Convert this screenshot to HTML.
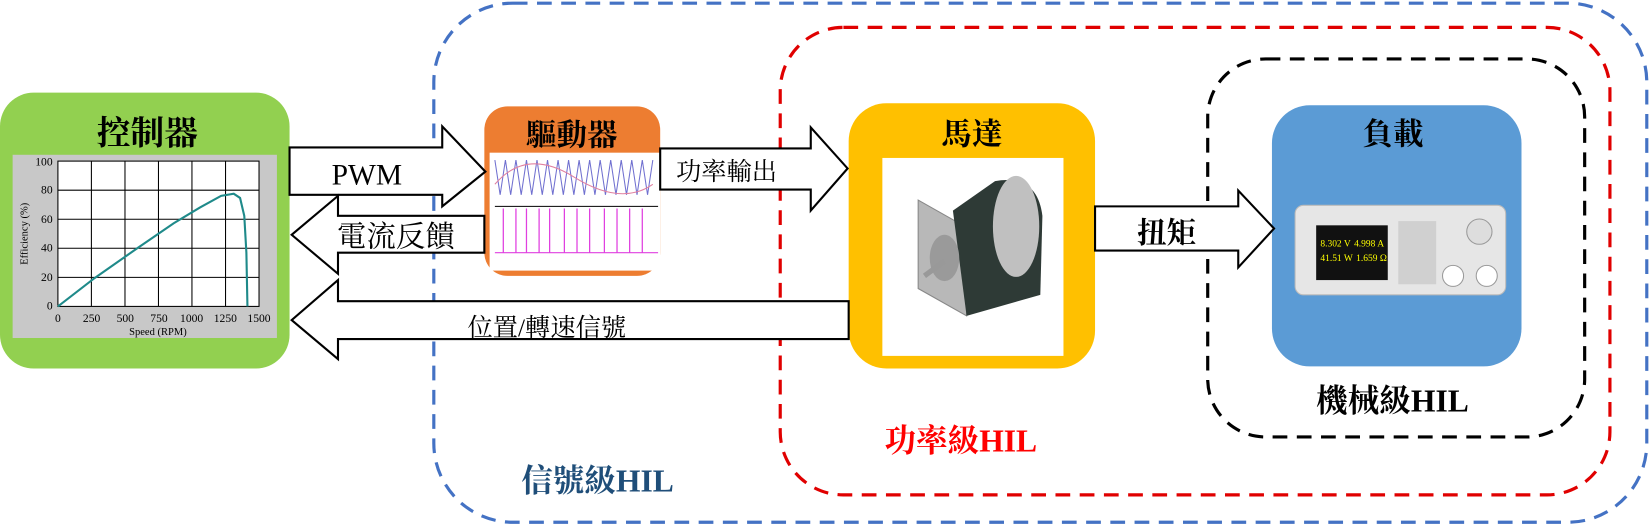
<!DOCTYPE html>
<html><head><meta charset="utf-8"><style>
html,body{margin:0;padding:0;background:#fff;}
svg{display:block;}
text{font-family:"Liberation Serif","Noto Serif CJK SC","Noto Sans CJK TC",serif;}
</style></head><body>
<svg width="1651" height="527" viewBox="0 0 1568 500.5" preserveAspectRatio="none" xmlns="http://www.w3.org/2000/svg">
<!-- dashed regions -->
<rect x="412" y="3" width="1152" height="493" rx="75" fill="none" stroke="#4472c4" stroke-width="3" stroke-dasharray="14,9"/>
<rect x="741" y="26" width="788" height="444" rx="60" fill="none" stroke="#e00000" stroke-width="3" stroke-dasharray="14,9"/>
<rect x="1147" y="56" width="358" height="359" rx="55" fill="none" stroke="#000" stroke-width="3" stroke-dasharray="14,9"/>

<!-- controller -->
<rect x="0" y="88" width="275" height="262" rx="32" fill="#92d050"/>
<text x="140" y="137" font-size="32" font-weight="bold" text-anchor="middle">控制器</text>
<rect x="12" y="147" width="251" height="174" fill="#c8c8c8"/>
<rect x="55" y="153" width="191" height="138" fill="#fff" stroke="#000" stroke-width="1"/>
<g stroke="#000" stroke-width="1">
<line x1="55" y1="180.6" x2="246" y2="180.6"/><line x1="55" y1="208.2" x2="246" y2="208.2"/>
<line x1="55" y1="235.8" x2="246" y2="235.8"/><line x1="55" y1="263.4" x2="246" y2="263.4"/>
<line x1="86.8" y1="153" x2="86.8" y2="291"/><line x1="118.7" y1="153" x2="118.7" y2="291"/>
<line x1="150.5" y1="153" x2="150.5" y2="291"/><line x1="182.3" y1="153" x2="182.3" y2="291"/>
<line x1="214.2" y1="153" x2="214.2" y2="291"/>
</g>
<path d="M55 291 L90 264 L130 236 L165 212 L190 197 L210 186 L222 184 L228 188 L232 205 L234 240 L235 291" fill="none" stroke="#1f8a8a" stroke-width="2"/>
<g font-size="11" text-anchor="end">
<text x="50" y="157">100</text><text x="50" y="184">80</text><text x="50" y="212">60</text>
<text x="50" y="239">40</text><text x="50" y="267">20</text><text x="50" y="294">0</text>
</g>
<g font-size="11" text-anchor="middle">
<text x="55" y="306">0</text><text x="87" y="306">250</text><text x="119" y="306">500</text>
<text x="151" y="306">750</text><text x="182" y="306">1000</text><text x="214" y="306">1250</text><text x="246" y="306">1500</text>
<text x="150" y="318" font-size="10">Speed (RPM)</text>
</g>
<text x="0" y="0" font-size="10" text-anchor="middle" transform="translate(26 222) rotate(-90)">Efficiency (%)</text>

<!-- driver -->
<rect x="460" y="101" width="167" height="161" rx="22" fill="#ed7d31"/>
<text x="543" y="138" font-size="29" font-weight="bold" text-anchor="middle">驅動器</text>
<rect x="465" y="145" width="162" height="112" fill="#fff"/>
<path d="M470 152 L475 185 L480 152 L485 185 L490 152 L495 185 L500 152 L505 185 L510 152 L515 185 L520 152 L525 185 L530 152 L535 185 L540 152 L545 185 L550 152 L555 185 L560 152 L565 185 L570 152 L575 185 L580 152 L585 185 L590 152 L595 185 L600 152 L605 185 L610 152 L615 185 L620 152" fill="none" stroke="#7070d0" stroke-width="1"/>
<path d="M470 175 Q500 140 545 168 T620 175" fill="none" stroke="#e080a0" stroke-width="1"/>
<line x1="470" y1="196" x2="625" y2="196" stroke="#000"/>
<g stroke="#e040e0" stroke-width="1.2">
<line x1="478" y1="198" x2="478" y2="240"/><line x1="490" y1="198" x2="490" y2="240"/><line x1="500" y1="198" x2="500" y2="240"/>
<line x1="512" y1="198" x2="512" y2="240"/><line x1="522" y1="198" x2="522" y2="240"/><line x1="536" y1="198" x2="536" y2="240"/>
<line x1="548" y1="198" x2="548" y2="240"/><line x1="560" y1="198" x2="560" y2="240"/><line x1="574" y1="198" x2="574" y2="240"/>
<line x1="586" y1="198" x2="586" y2="240"/><line x1="598" y1="198" x2="598" y2="240"/><line x1="610" y1="198" x2="610" y2="240"/>
</g>
<line x1="470" y1="240" x2="625" y2="240" stroke="#e040e0"/>

<!-- motor -->
<rect x="806" y="98" width="234" height="252" rx="36" fill="#ffc000"/>
<text x="923" y="137" font-size="29" font-weight="bold" text-anchor="middle">馬達</text>
<rect x="838" y="150" width="172" height="188" fill="#fff"/>
<polygon points="872,190 918,216 918,300 872,274" fill="#b8b8b8" stroke="#888"/>
<path d="M905 200 L945 172 Q985 165 990 205 L988 280 L918 300 Z" fill="#2e3a36"/>
<ellipse cx="965" cy="215" rx="22" ry="48" fill="#c0c0c0"/>
<ellipse cx="897" cy="245" rx="14" ry="22" fill="#9a9a9a"/>
<line x1="897" y1="248" x2="878" y2="262" stroke="#999" stroke-width="5"/>

<!-- load -->
<rect x="1208" y="100" width="237" height="248" rx="36" fill="#5b9bd5"/>
<text x="1323" y="137" font-size="29" font-weight="bold" text-anchor="middle">負載</text>
<rect x="1230" y="195" width="200" height="85" rx="8" fill="#e6e6e6" stroke="#bbb"/>
<rect x="1250" y="214" width="68" height="52" fill="#111"/>
<text x="1254" y="234" font-size="9" fill="#ff0" font-family="Liberation Sans">8.302 V</text>
<text x="1286" y="234" font-size="9" fill="#ff0" font-family="Liberation Sans">4.998 A</text>
<text x="1254" y="248" font-size="9" fill="#ff0" font-family="Liberation Sans">41.51 W</text>
<text x="1288" y="248" font-size="9" fill="#ff0" font-family="Liberation Sans">1.659 Ω</text>
<circle cx="1405" cy="220" r="12" fill="#ddd" stroke="#999"/>
<circle cx="1380" cy="262" r="10" fill="#fff" stroke="#999"/>
<circle cx="1412" cy="262" r="10" fill="#fff" stroke="#999"/>
<rect x="1328" y="210" width="36" height="60" fill="#d0d0d0"/>

<!-- arrows -->
<g fill="#fff" stroke="#000" stroke-width="2">
<polygon points="275,140 420,140 420,120 461,163 420,196 420,185 275,185"/>
<polygon points="460,205 321,205 321,186 277,223 321,260 321,240 460,240"/>
<polygon points="806,286 321,286 321,266 277,304 321,341 321,322 806,322"/>
<polygon points="627,141 770,141 770,121 805,160 770,200 770,180 627,180"/>
<polygon points="1040,196 1176,196 1176,181 1210,217 1176,254 1176,238 1040,238"/>
</g>
<g font-size="28">
<text x="315" y="175">PWM</text>
<text x="320" y="234">電流反饋</text>
<text x="642" y="171" font-size="24">功率輸出</text>
<text x="444" y="319" font-size="24">位置/轉速信號</text>
<text x="1080" y="231" font-weight="bold">扭矩</text>
</g>

<!-- labels -->
<text x="495" y="467" font-size="30" font-weight="bold" fill="#1f4e79">信號級HIL</text>
<text x="840" y="429" font-size="30" font-weight="bold" fill="#ff0000">功率級HIL</text>
<text x="1250" y="391" font-size="30" font-weight="bold" fill="#000">機械級HIL</text>
</svg>
</body></html>
